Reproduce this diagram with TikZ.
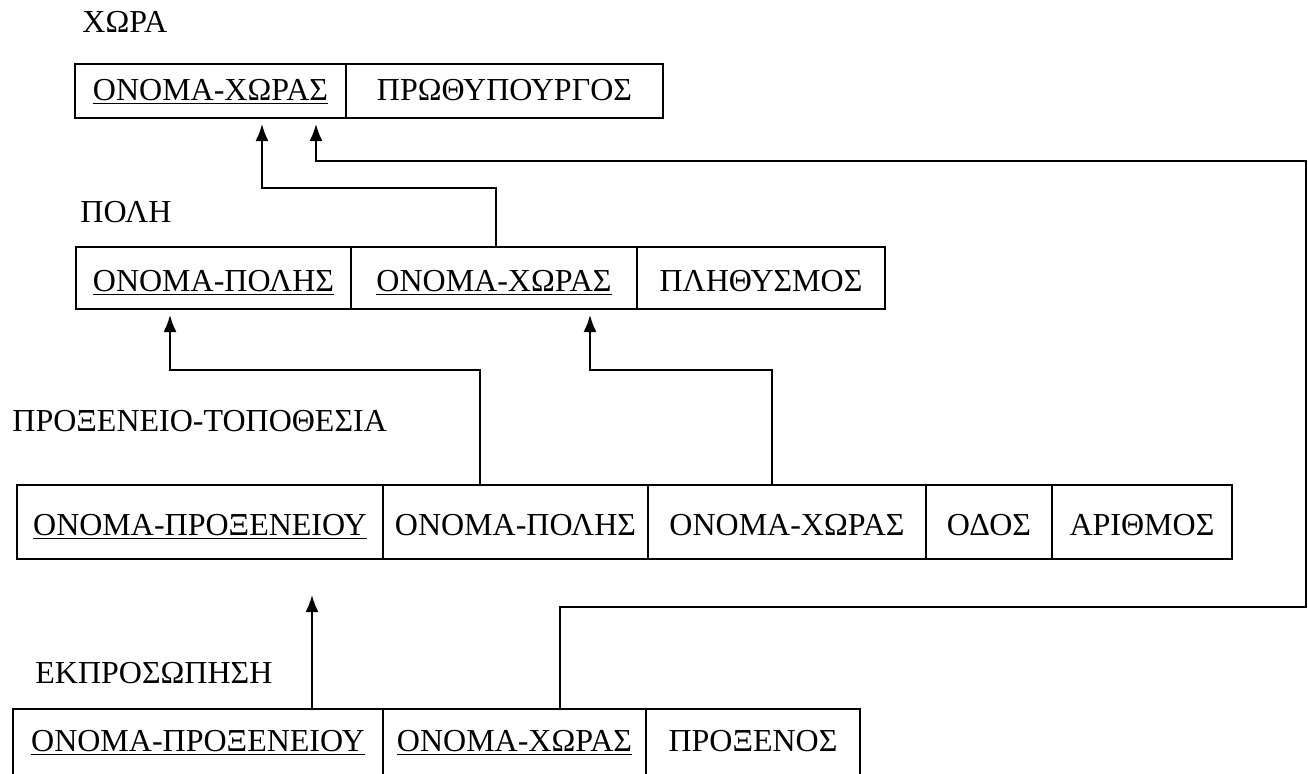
\documentclass[tikz,border=0pt]{standalone}
\usepackage{fontspec}
\setmainfont{Liberation Serif}
\usetikzlibrary{arrows.meta,positioning}

\begin{document}
\begin{tikzpicture}[x=0.5pt,y=-0.5pt,font=\fontsize{16}{19}\selectfont]
		
		\tikzset{cell/.style = {shape=rectangle,draw,line width=0.9pt,inner sep=0pt,outer sep=0pt,text height=11pt,text depth=2pt}}
		\tikzset{low/.style = {text height=15pt}}
		\tikzset{title/.style = {anchor=base west,inner sep=0pt}}
		\tikzset{edge/.style = {->,> = {Latex[length=8.5pt,width=6.5pt]},line width=0.9pt}}
		\useasboundingbox (0,0) rectangle (1308,773);
		% titles
		\node[title] (LX) at (82,32) {ΧΩΡΑ};
		\node[title] (LP) at (80,222) {ΠΟΛΗ};
		\node[title] (LT) at (12,431) {ΠΡΟΞΕΝΕΙΟ-ΤΟΠΟΘΕΣΙΑ};
		\node[title] (LE) at (35,683) {ΕΚΠΡΟΣΩΠΗΣΗ};
		% cells
		\node[cell,anchor=north west,minimum width=135.5pt,minimum height=27pt] (X1) at (75,64) {\underline{ΟΝΟΜΑ-ΧΩΡΑΣ}};
		\node[cell,minimum width=158.5pt,minimum height=27pt,right=0pt of X1] (X2) {ΠΡΩΘΥΠΟΥΡΓΟΣ};
		\node[cell,low,anchor=north west,minimum width=137.5pt,minimum height=31pt] (P1) at (76,247) {\underline{ΟΝΟΜΑ-ΠΟΛΗΣ}};
		\node[cell,low,minimum width=143pt,minimum height=31pt,right=0pt of P1] (P2) {\underline{ΟΝΟΜΑ-ΧΩΡΑΣ}};
		\node[cell,low,minimum width=124pt,minimum height=31pt,right=0pt of P2] (P3) {ΠΛΗΘΥΣΜΟΣ};
		\node[cell,low,anchor=north west,minimum width=183pt,minimum height=37pt] (T1) at (17,485) {\underline{ΟΝΟΜΑ-ΠΡΟΞΕΝΕΙΟΥ}};
		\node[cell,low,minimum width=132.5pt,minimum height=37pt,right=0pt of T1] (T2) {ΟΝΟΜΑ-ΠΟΛΗΣ};
		\node[cell,low,minimum width=139pt,minimum height=37pt,right=0pt of T2] (T3) {ΟΝΟΜΑ-ΧΩΡΑΣ};
		\node[cell,low,minimum width=63pt,minimum height=37pt,right=0pt of T3] (T4) {ΟΔΟΣ};
		\node[cell,low,minimum width=90pt,minimum height=37pt,right=0pt of T4] (T5) {ΑΡΙΘΜΟΣ};
		\node[cell,anchor=north west,minimum width=185pt,minimum height=33.5pt] (E1) at (13,709) {\underline{ΟΝΟΜΑ-ΠΡΟΞΕΝΕΙΟΥ}};
		\node[cell,minimum width=131.5pt,minimum height=33.5pt,right=0pt of E1] (E2) {\underline{ΟΝΟΜΑ-ΧΩΡΑΣ}};
		\node[cell,minimum width=107pt,minimum height=33.5pt,right=0pt of E2] (E3) {ΠΡΟΞΕΝΟΣ};
		% bends
		\coordinate (a1) at (262,188);
		\coordinate (a2) at (496,188);
		\coordinate (b1) at (316,161);
		\coordinate (b2) at (1306,161);
		\coordinate (b3) at (1306,607);
		\coordinate (b4) at (560,607);
		\coordinate (c1) at (170,370);
		\coordinate (c2) at (480,370);
		\coordinate (d1) at (590,370);
		\coordinate (d2) at (772,370);
		\coordinate (f1) at (312,640);
		%edges
		\draw[edge,shorten >=3pt] (P2.north -| a2) -- (a2) -- (a1) -- (X1.south -| a1);
		\draw[edge,shorten >=3pt] (E2.north -| b4) -- (b4) -- (b3) -- (b2) -- (b1) -- (X1.south -| b1);
		\draw[edge,shorten >=3pt] (T2.north -| c2) -- (c2) -- (c1) -- (P1.south -| c1);
		\draw[edge,shorten >=3pt] (T3.north -| d2) -- (d2) -- (d1) -- (P2.south -| d1);
		\draw[edge,shorten >=18pt] (E1.north -| f1) -- (T1.south -| f1);
		\end{tikzpicture}
\end{document}
